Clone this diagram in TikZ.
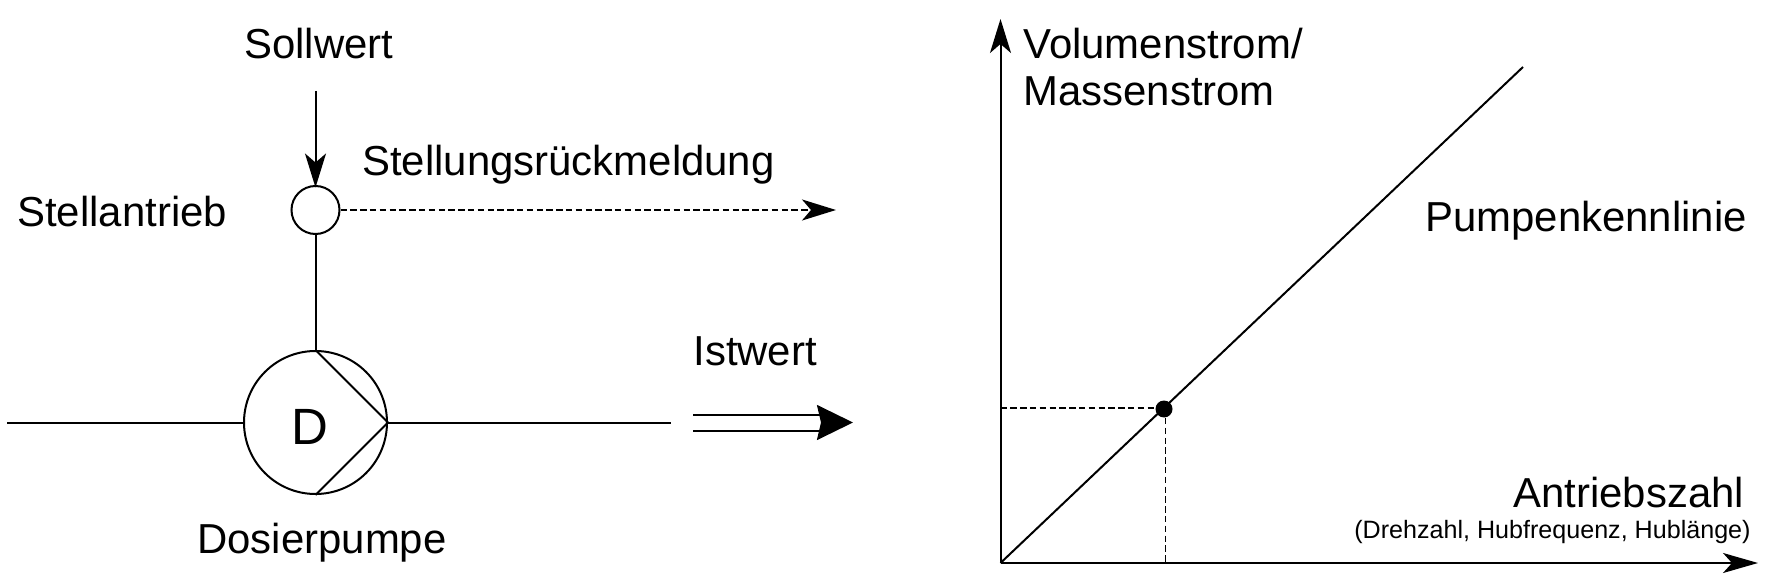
\documentclass[tikz,border=0pt]{standalone}
\usepackage{fontspec}
\setmainfont{Liberation Sans}
\usetikzlibrary{arrows.meta}
\tikzset{
  line/.style={line width=1pt,black},
  dashline/.style={line width=0.9pt,black,dash pattern=on 3.2pt off 1.7pt},
  thin head/.style={-{Stealth[length=17pt,width=10.5pt,inset=4.5pt]}},
  flat head/.style={-{Stealth[length=17.5pt,width=10pt,inset=4.5pt]}},
  big head/.style={-{Stealth[length=18pt,width=17.5pt,inset=2pt]}},
  lbl/.style={font=\fontsize{20.95}{24}\selectfont,inner sep=0pt,anchor=base west},
  big lbl/.style={font=\fontsize{25.5}{28}\selectfont,inner sep=0pt,anchor=base west},
  small lbl/.style={font=\fontsize{12.55}{15}\selectfont,inner sep=0pt,anchor=base east},
  valve/.style={circle,draw,line width=1pt,minimum size=24pt,inner sep=0pt},
  pump/.style={circle,draw,line width=1pt,minimum size=71.5pt,inner sep=0pt},
  dot/.style={circle,fill=black,minimum size=8.5pt,inner sep=0pt}
}
\begin{document}
\begin{tikzpicture}[x=0.5pt,y=-0.5pt]
\useasboundingbox (0,0) rectangle (1790,583);
% left part
\node[valve] (act) at (315.5,210) {};
\node[pump] (pmp) at (315.5,422.5) {};
\coordinate (setin) at (315.5,91);
\coordinate (setend) at (315.5,187.5);
\coordinate (fbend) at (836,210);
\coordinate (linein) at (7,422.5);
\coordinate (lineout) at (671,422.5);
\coordinate (isstart) at (693,422.5);
\coordinate (isend) at (853,422.5);
\draw[line,thin head] (setin) -- (setend);
\draw[dashline,thin head] (act.east) -- (fbend);
\draw[line] (act.south) -- (pmp.north);
\draw[line] (linein) -- (pmp.west);
\draw[line] (pmp.east) -- (lineout);
\draw[line] (pmp.north) -- (pmp.east) -- (pmp.south);
\draw[line,double,double distance=7pt,big head] (isstart) -- (isend);
\node[lbl] (tsoll) at (244,58.5) {Sollwert};
\node[lbl] (tstell) at (17,227) {Stellantrieb};
\node[lbl] (tfb) at (362,176) {Stellungsrückmeldung};
\node[lbl] (tist) at (693,365) {Istwert};
\node[lbl] (tdos) at (197,553) {Dosierpumpe};
\node[big lbl] (td) at (291,444) {D};
% right part
\coordinate (orig) at (1000.5,563);
\coordinate (ytop) at (1000.5,19);
\coordinate (xend) at (1758,563);
\coordinate (curveend) at (1523,67);
\coordinate (ymark) at (1000.5,408);
\coordinate (xmark) at (1165.5,563);
\node[dot] (op) at (1164,409) {};
\draw[line,thin head] (orig) -- (ytop);
\draw[line,flat head] (orig) -- (xend);
\draw[line] (orig) -- (curveend);
\draw[dashline] (ymark) -- (ymark -| op.west);
\draw[dashline] (op.south -| xmark) -- (xmark);
\node[lbl] (tvol) at (1023,58.5) {Volumenstrom/};
\node[lbl] (tmas) at (1023,105.5) {Massenstrom};
\node[lbl] (tkenn) at (1425,232) {Pumpenkennlinie};
\node[lbl] (tantr) at (1513,507) {Antriebszahl};
\node[small lbl] (tsub) at (1751,538) {(Drehzahl, Hubfrequenz, Hublänge)};
\end{tikzpicture}
\end{document}
